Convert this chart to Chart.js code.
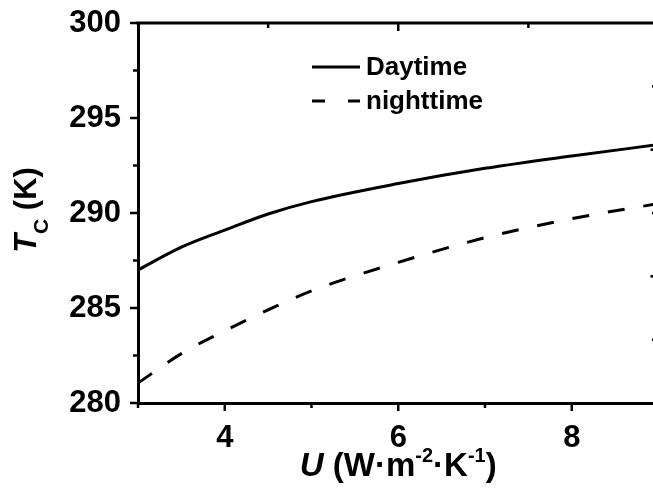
<!DOCTYPE html>
<html><head><meta charset="utf-8">
<script src="https://cdn.jsdelivr.net/npm/chart.js@4/dist/chart.umd.min.js"></script>
<style>html,body{margin:0;padding:0;overflow:hidden;background:#fff}</style>
</head><body>
<canvas id="c" width="662" height="489"></canvas>
<script>
// ---- data ----
const uValues   = [3, 3.5, 4, 4.5, 5, 6, 7, 8, 9];
const daytime   = [287.0, 288.2, 289.1, 289.95, 290.6, 291.55, 292.35, 293.0, 293.6];
const nighttime = [281.05, 282.6, 283.8, 284.9, 285.9, 287.4, 288.7, 289.7, 290.5];
const seriesNames = ['Daytime', 'nighttime'];
// ---- tick values ----
const xLabelTicks = [4, 6, 8];
const xMinorTicks = [3, 5, 7, 9];
const yLabelTicks = [280, 285, 290, 295, 300];
const yMinorTicks = [282.5, 287.5, 292.5, 297.5];
const topMajorTicks = [6];
const topMinorTicks = [4.5, 7.5];
const rightMajorTicks = [286.667, 293.333];
const rightMinorTicks = [283.333, 290, 296.667];

const FONT = '"Liberation Sans", Arial, Helvetica, sans-serif';

const decor = {
  id: 'decor',
  afterDraw(chart) {
    const ctx = chart.ctx, a = chart.chartArea;
    const xs = chart.scales.x, ys = chart.scales.y;
    ctx.save();
    ctx.strokeStyle = '#000';
    ctx.fillStyle = '#000';
    ctx.lineCap = 'butt';
    // top border
    ctx.lineWidth = 3;
    ctx.beginPath(); ctx.moveTo(a.left - 1.5, a.top); ctx.lineTo(chart.width, a.top); ctx.stroke();
    // ticks
    ctx.lineWidth = 2.5;
    const tick = (x1, y1, x2, y2) => { ctx.beginPath(); ctx.moveTo(x1, y1); ctx.lineTo(x2, y2); ctx.stroke(); };
    xLabelTicks.forEach(v => { const p = xs.getPixelForValue(v); tick(p, a.bottom, p, a.bottom + 8); });
    xMinorTicks.forEach(v => { const p = xs.getPixelForValue(v); tick(p, a.bottom, p, a.bottom + 5); });
    yLabelTicks.forEach(v => { const p = ys.getPixelForValue(v); tick(a.left, p, a.left - 8, p); });
    yMinorTicks.forEach(v => { const p = ys.getPixelForValue(v); tick(a.left, p, a.left - 5, p); });
    topMajorTicks.forEach(v => { const p = xs.getPixelForValue(v); tick(p, a.top, p, a.top + 8); });
    topMinorTicks.forEach(v => { const p = xs.getPixelForValue(v); tick(p, a.top, p, a.top + 5); });
    rightMajorTicks.forEach(v => { const p = ys.getPixelForValue(v); tick(a.right, p, a.right - 8, p); });
    rightMinorTicks.forEach(v => { const p = ys.getPixelForValue(v); tick(a.right, p, a.right - 6.5, p); });

    // legend
    const lx = a.left + 174, ly = a.top + 44, gap = 34;
    ctx.lineWidth = 3;
    chart.data.datasets.forEach((ds, i) => {
      const y = ly + i * gap;
      ctx.setLineDash(i === 0 ? [] : [13, 23]);
      tick(lx, y, lx + 48, y);
      ctx.setLineDash([]);
      ctx.font = 'bold 26px ' + FONT;
      ctx.textBaseline = 'middle';
      ctx.textAlign = 'left';
      ctx.fillText(ds.label, lx + 54, y + 1);
    });

    const drawParts = (parts, cx, cy) => {
      let w = 0;
      parts.forEach(p => { ctx.font = p.f; w += ctx.measureText(p.t).width; });
      let x = cx - w / 2;
      ctx.textAlign = 'left';
      ctx.textBaseline = 'alphabetic';
      parts.forEach(p => { ctx.font = p.f; ctx.fillText(p.t, x, cy + p.dy); x += ctx.measureText(p.t).width; });
    };

    // x title: U (W·m-2·K-1)
    const fs = 33;
    const sup = Math.round(fs * 0.62);
    drawParts([
      {t: 'U', f: 'italic bold ' + fs + 'px ' + FONT, dy: 0},
      {t: ' (W\u00B7m', f: 'bold ' + fs + 'px ' + FONT, dy: 0},
      {t: '-2', f: 'bold ' + sup + 'px ' + FONT, dy: -fs * 0.42},
      {t: '\u00B7K', f: 'bold ' + fs + 'px ' + FONT, dy: 0},
      {t: '-1', f: 'bold ' + sup + 'px ' + FONT, dy: -fs * 0.42},
      {t: ')', f: 'bold ' + fs + 'px ' + FONT, dy: 0}
    ], (a.left + a.right) / 2, 476);

    // y title: T_C (K)
    const fy = 31;
    ctx.save();
    ctx.translate(36, (a.top + a.bottom) / 2);
    ctx.rotate(-Math.PI / 2);
    drawParts([
      {t: 'T', f: 'italic bold ' + fy + 'px ' + FONT, dy: 0},
      {t: 'C', f: 'bold ' + Math.round(fy * 0.68) + 'px ' + FONT, dy: fy * 0.4},
      {t: ' (K)', f: 'bold ' + fy + 'px ' + FONT, dy: 0}
    ], 3, 0);
    ctx.restore();
    ctx.restore();
  }
};

const zeroPad = s => { s.paddingTop = 0; s.paddingBottom = 0; s.paddingLeft = 0; s.paddingRight = 0; };

new Chart(document.getElementById('c'), {
  type: 'line',
  data: {
    datasets: [
      {label: seriesNames[0], data: uValues.map((u, i) => ({x: u, y: daytime[i]})),
       borderColor: '#000', borderWidth: 3, pointRadius: 0, cubicInterpolationMode: 'monotone', fill: false},
      {label: seriesNames[1], data: uValues.map((u, i) => ({x: u, y: nighttime[i]})),
       borderColor: '#000', borderWidth: 3, borderDash: [17, 19], pointRadius: 0, cubicInterpolationMode: 'monotone', fill: false}
    ]
  },
  options: {
    responsive: false,
    animation: false,
    devicePixelRatio: 1,
    layout: {padding: {top: 23, right: 3.5, left: 0, bottom: 0}},
    plugins: {legend: {display: false}, tooltip: {enabled: false}},
    scales: {
      x: {
        type: 'linear', min: 3, max: 9,
        afterFit: s => { s.height = 86; zeroPad(s); },
        grid: {display: true, drawOnChartArea: false, drawTicks: false},
        border: {display: true, width: 3, color: '#000'},
        ticks: {stepSize: 1, padding: 17, color: '#000', maxRotation: 0, autoSkip: false,
                font: {family: FONT, size: 31, weight: 'bold'},
                callback: v => xLabelTicks.includes(v) ? String(v) : ''}
      },
      y: {
        min: 280, max: 300,
        afterFit: s => { s.width = 138; zeroPad(s); },
        grid: {display: true, drawOnChartArea: false, drawTicks: false},
        border: {display: true, width: 3, color: '#000'},
        ticks: {stepSize: 2.5, padding: 17, color: '#000', autoSkip: false,
                font: {family: FONT, size: 31, weight: 'bold'},
                callback: v => yLabelTicks.includes(v) ? String(v) : ''}
      }
    }
  },
  plugins: [decor]
});
</script>
</body></html>
